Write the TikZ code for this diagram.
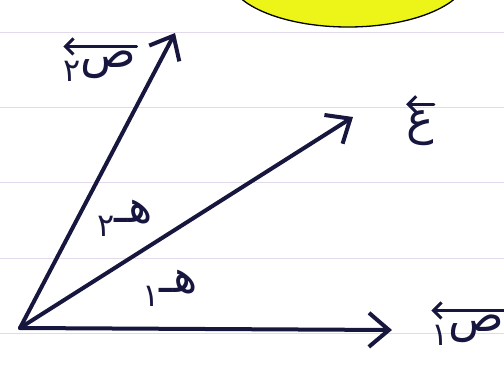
\documentclass[tikz,border=0pt]{standalone}
\usepackage{fontspec}
\newfontfamily\arabicfont[Script=Arabic]{DejaVu Sans}
\TeXXeTstate=1
\usetikzlibrary{arrows.meta}
\definecolor{ink}{RGB}{22,22,62}
\definecolor{rulecol}{RGB}{226,218,236}
\definecolor{sun}{RGB}{236,244,24}
\tikzset{
  vecline/.style={ink, line width=4pt, line cap=round, -{Straight Barb[length=20pt,width=34pt,line width=4pt]}},
  vecbar/.style={ink, line width=3pt, line cap=round, -{Straight Barb[length=8pt,width=16pt,line width=3pt]}},
  arlabel/.style={ink, inner sep=0pt, font=\arabicfont\fontsize{46}{52}\selectfont}
}
\newcommand{\artext}[1]{\beginR #1\endR}
\newcommand{\arsub}[1]{\lower14pt\hbox{\fontsize{32}{36}\selectfont #1}}

\begin{document}
\begin{tikzpicture}[x=1pt,y=-1pt]
\useasboundingbox (0,0) rectangle (504,378);
\foreach \y in {32,107,182,258,333}
{
	\draw[rulecol, line width=1pt] (0,\y) -- (504,\y);
}
\filldraw[fill=sun, draw=black, line width=1.3pt] (348,-25) ellipse (120 and 52);

\coordinate (O) at (20,328);
\coordinate (E1) at (392,330);
\coordinate (E2) at (175,33);
\coordinate (R) at (353,117);
\draw[vecline] (O) -- (E1);
\draw[vecline] (O) -- (E2);
\draw[vecline] (O) -- (R);

\node[arlabel] (e1lab) at (468,330) {\artext{ص\arsub{١}}};
\node[arlabel] (e2lab) at (100,66) {\artext{ص\arsub{٢}}};
\node[arlabel] (rlab) at (420,128) {\artext{ع}};
\node[arlabel] (th1) at (170,288) {\artext{هـ\arsub{١}}};
\node[arlabel] (th2) at (125,218) {\artext{هـ\arsub{٢}}};
\draw[vecbar] ([yshift=4pt]e1lab.north east) -- ([yshift=4pt]e1lab.north west);
\draw[vecbar] ([yshift=4pt]e2lab.north east) -- ([yshift=4pt]e2lab.north west);
\draw[vecbar] ([yshift=6pt]rlab.north east) -- ([yshift=6pt]rlab.north west);
\end{tikzpicture}
\end{document}
